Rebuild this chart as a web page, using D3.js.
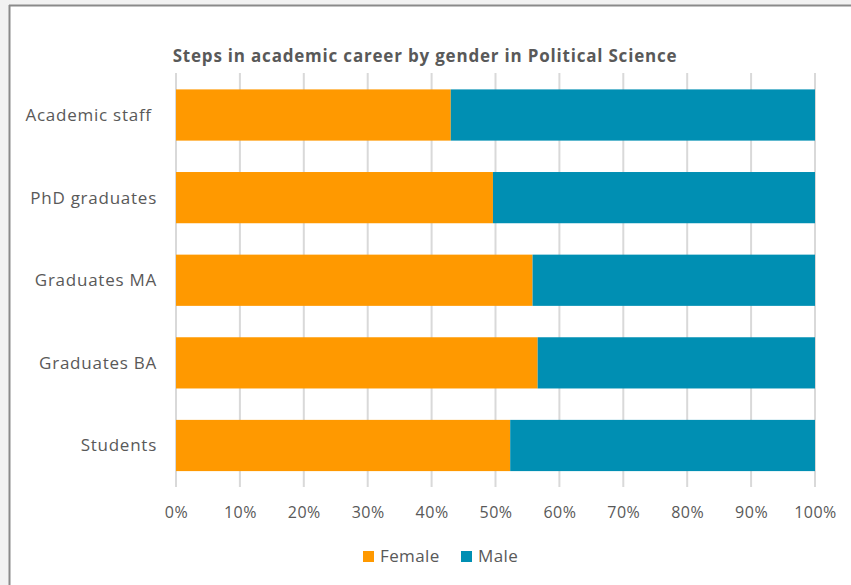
<!DOCTYPE html>
<html><head><meta charset="utf-8">
<script src="https://cdn.jsdelivr.net/npm/d3@7"></script>
<style>
html,body{margin:0;padding:0;background:#f2f2f2;}
svg{display:block;}
text{font-family:"Open Sans","Noto Sans",sans-serif;fill:#595959;white-space:pre;}
</style></head>
<body>
<script>
const categories = ["Academic staff ", "PhD graduates", "Graduates MA", "Graduates BA", "Students"];
const female = [43.0, 49.6, 55.8, 56.6, 52.3];
const male = [57.0, 50.4, 44.2, 43.4, 47.7];
const seriesNames = ["Female", "Male"];
const seriesColors = ["#ff9900", "#008fb3"];
const xTicks = [0,10,20,30,40,50,60,70,80,90,100];
const title = "Steps in academic career by gender in Political Science";

const W = 851, H = 585;
const svg = d3.select("body").append("svg").attr("width", W).attr("height", H);

// frame
svg.append("rect").attr("x", 9).attr("y", 5).attr("width", W).attr("height", H)
  .attr("fill", "#ffffff");
svg.append("line").attr("x1", 9).attr("x2", W).attr("y1", 5.5).attr("y2", 5.5).attr("stroke", "#8a8a8a").attr("stroke-width", 2);
svg.append("line").attr("x1", 9.5).attr("x2", 9.5).attr("y1", 5).attr("y2", H).attr("stroke", "#8a8a8a").attr("stroke-width", 2);

const x = d3.scaleLinear().domain([0, 100]).range([176, 815]);
const y = d3.scaleBand().domain(categories).range([73.7, 486.8]).paddingInner(0.38).paddingOuter(0.19);

// gridlines
svg.append("g").selectAll("line").data(xTicks).join("line")
  .attr("x1", d => x(d)).attr("x2", d => x(d))
  .attr("y1", 73).attr("y2", 487)
  .attr("stroke", "#d9d9d9").attr("stroke-width", 2);

const rows = categories.map((c, i) => ({c, f: female[i], m: male[i]}));
const stack = d3.stack().keys(["f", "m"])(rows);

svg.append("g").selectAll("g").data(stack).join("g")
  .attr("fill", (d, i) => seriesColors[i])
  .selectAll("rect").data(d => d).join("rect")
  .attr("x", d => x(d[0]))
  .attr("width", d => x(d[1]) - x(d[0]))
  .attr("y", d => y(d.data.c))
  .attr("height", y.bandwidth());

// y labels
const yAxis = d3.axisLeft(y).tickSize(0).tickPadding(19);
const gy = svg.append("g").attr("transform", "translate(176,0)").call(yAxis);
gy.select(".domain").remove();
gy.selectAll("text").attr("dy", null).attr("y", 6)
  .style("font-size", "17px").style("letter-spacing", "0.75px")
  .style("font-family", '"Open Sans",sans-serif').attr("fill", "#595959");

// x labels
const xAxis = d3.axisBottom(x).tickValues(xTicks).tickFormat(d => d + "%").tickSize(0);
const gx = svg.append("g").attr("transform", "translate(0,518)").call(xAxis);
gx.select(".domain").remove();
gx.selectAll("text").attr("dy", null).attr("y", 0)
  .style("font-size", "16px").style("letter-spacing", "0.5px")
  .style("font-family", '"Open Sans",sans-serif').attr("fill", "#595959");

// title
svg.append("text").attr("x", 425).attr("y", 62).attr("text-anchor", "middle")
  .style("font-size", "17px").style("letter-spacing", "0.8px").style("font-weight", "bold").text(title);

// legend
const legendX = [363, 461];
const lg = svg.append("g").selectAll("g").data(seriesNames).join("g")
  .attr("transform", (d, i) => `translate(${legendX[i]},551)`);
lg.append("rect").attr("width", 11).attr("height", 11).attr("fill", (d, i) => seriesColors[i]);
lg.append("text").attr("x", 17).attr("y", 11).style("font-size", "17px").style("letter-spacing", "0.4px").text(d => d);
</script>
</body></html>
